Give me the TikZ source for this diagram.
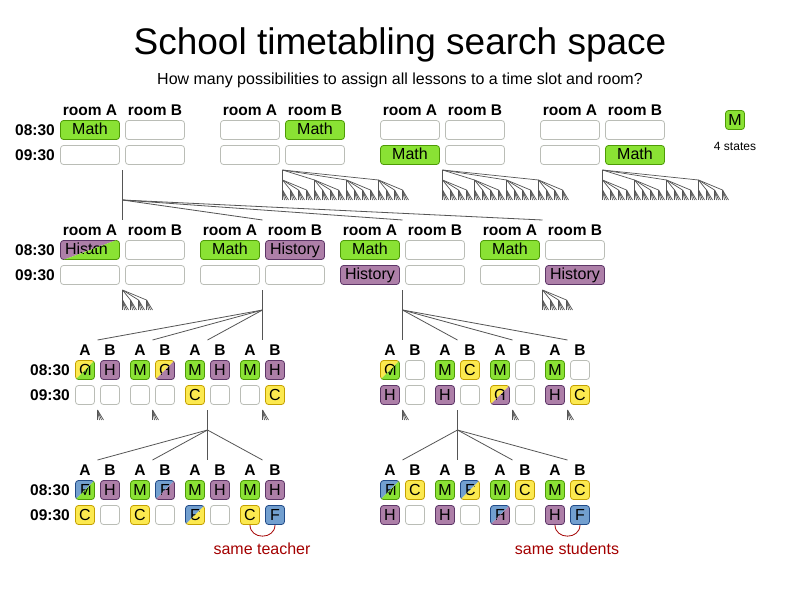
\documentclass[tikz,border=0pt]{standalone}
\usepackage{fontspec}
\setmainfont{Liberation Sans}
\usepackage{tikz}

% Cores
\definecolor{verde}{HTML}{8AE234}
\definecolor{verdeborda}{HTML}{4E9A06}
\definecolor{roxo}{HTML}{AD7FA8}
\definecolor{roxoborda}{HTML}{5C3566}
\definecolor{amarelo}{HTML}{FCE94F}
\definecolor{amareloborda}{HTML}{C4A000}
\definecolor{azul}{HTML}{729FCF}
\definecolor{azulborda}{HTML}{204A87}
\definecolor{cinza}{HTML}{BABDB6}
\definecolor{linhacor}{HTML}{555555}
\definecolor{vermelho}{HTML}{A40000}

\tikzset{
  texto/.style={inner sep=0pt, font=\fontsize{15.5}{18}\selectfont\bfseries},
  sala/.style={draw, rounded corners=3pt, line width=0.8pt, inner sep=0pt,
    minimum width=59pt, minimum height=19pt, text height=12pt, text depth=3pt,
    font=\fontsize{16}{19}\selectfont},
  quad/.style={sala, minimum width=19pt, text height=11.5pt, text depth=0pt},
  vazio/.style={fill=white, draw=cinza},
  mat/.style={fill=verde, draw=verdeborda},
  hist/.style={fill=roxo, draw=roxoborda},
  quim/.style={fill=amarelo, draw=amareloborda},
  fis/.style={fill=azul, draw=azulborda},
  linha/.style={draw=linhacor, line width=0.8pt},
  galho/.style={draw=linhacor, line width=0.7pt},
  aviso/.style={inner sep=0pt, text=vermelho, font=\fontsize{16}{19}\selectfont},
}

% Duas aulas no mesmo lugar
\newcommand{\caixadupla}[7]{%
  \node[#2, draw=none, fill=none] (#1) at (#3) {};
  \begin{scope}
    \clip ([shift={(-2pt,2pt)}]#1.north west) -- ([shift={(2pt,2pt)}]#1.north east)
      -- ([shift={(-2pt,-2pt)}]#1.south west) -- cycle;
    \node[#2, #4] at (#3) {#5};
  \end{scope}
  \begin{scope}
    \clip ([shift={(2pt,2pt)}]#1.north east) -- ([shift={(2pt,-2pt)}]#1.south east)
      -- ([shift={(-2pt,-2pt)}]#1.south west) -- cycle;
    \node[#2, #6] at (#3) {#7};
  \end{scope}
}

% Árvores pequenas
\newcommand{\galhoA}[2]{%
  \foreach \k in {0,...,3} {\draw[galho] (#1,#2) -- (#1+2*\k,#2+10);}}
\newcommand{\galhoB}[2]{%
  \foreach \j in {0,...,3} {\draw[galho] (#1,#2) -- (#1+8*\j,#2+10); \galhoA{#1+8*\j}{#2+10}}}
\newcommand{\galhoC}[2]{%
  \foreach \i in {0,...,3} {\draw[galho] (#1,#2) -- (#1+32*\i,#2+10); \galhoB{#1+32*\i}{#2+10}}}

\begin{document}
\begin{tikzpicture}[x=1pt, y=-1pt]
  \useasboundingbox[fill=white] (0,0) rectangle (800,600);

  % Título
  \node[anchor=base, inner sep=0pt, font=\fontsize{37}{44}\selectfont] (titulo) at (400,54) {School timetabling search space};
  \node[anchor=base, inner sep=0pt, font=\fontsize{16}{19}\selectfont] (subtitulo) at (400,84) {How many possibilities to assign all lessons to a time slot and room?};

  % Nível 1
  \foreach \c/\n in {90/1, 250/2, 410/3, 570/4} {
    \node[texto] (n1sa\n) at (\c,110) {room A};
    \node[texto] (n1sb\n) at (\c+65,110) {room B};
  }
  \node[texto, anchor=east] (n1h1) at (55,130) {08:30};
  \node[texto, anchor=east] (n1h2) at (55,155) {09:30};

  \node[sala, mat] (n1e1a1) at (90,130) {Math};
  \node[sala, vazio] (n1e1b1) at (155,130) {};
  \node[sala, vazio] (n1e1a2) at (90,155) {};
  \node[sala, vazio] (n1e1b2) at (155,155) {};

  \node[sala, vazio] (n1e2a1) at (250,130) {};
  \node[sala, mat] (n1e2b1) at (315,130) {Math};
  \node[sala, vazio] (n1e2a2) at (250,155) {};
  \node[sala, vazio] (n1e2b2) at (315,155) {};

  \node[sala, vazio] (n1e3a1) at (410,130) {};
  \node[sala, vazio] (n1e3b1) at (475,130) {};
  \node[sala, mat] (n1e3a2) at (410,155) {Math};
  \node[sala, vazio] (n1e3b2) at (475,155) {};

  \node[sala, vazio] (n1e4a1) at (570,130) {};
  \node[sala, vazio] (n1e4b1) at (635,130) {};
  \node[sala, vazio] (n1e4a2) at (570,155) {};
  \node[sala, mat] (n1e4b2) at (635,155) {Math};

  % Legenda
  \node[quad, mat] (legenda) at (735,120) {M};
  \node[inner sep=0pt, font=\fontsize{12}{14}\selectfont] (estados) at (735,146) {4 states};

  % Nível 2
  \foreach \c/\n in {90/1, 230/2, 370/3, 510/4} {
    \node[texto] (n2sa\n) at (\c,230) {room A};
    \node[texto] (n2sb\n) at (\c+65,230) {room B};
  }
  \node[texto, anchor=east] (n2h1) at (55,250) {08:30};
  \node[texto, anchor=east] (n2h2) at (55,275) {09:30};

  \caixadupla{n2e1a1}{sala}{90,250}{hist}{History}{mat}{Math}
  \node[sala, vazio] (n2e1b1) at (155,250) {};
  \node[sala, vazio] (n2e1a2) at (90,275) {};
  \node[sala, vazio] (n2e1b2) at (155,275) {};

  \node[sala, mat] (n2e2a1) at (230,250) {Math};
  \node[sala, hist] (n2e2b1) at (295,250) {History};
  \node[sala, vazio] (n2e2a2) at (230,275) {};
  \node[sala, vazio] (n2e2b2) at (295,275) {};

  \node[sala, mat] (n2e3a1) at (370,250) {Math};
  \node[sala, vazio] (n2e3b1) at (435,250) {};
  \node[sala, hist] (n2e3a2) at (370,275) {History};
  \node[sala, vazio] (n2e3b2) at (435,275) {};

  \node[sala, mat] (n2e4a1) at (510,250) {Math};
  \node[sala, vazio] (n2e4b1) at (575,250) {};
  \node[sala, vazio] (n2e4a2) at (510,275) {};
  \node[sala, hist] (n2e4b2) at (575,275) {History};

  % Nível 3
  \foreach \c/\n in {85/1, 140/2, 195/3, 250/4, 390/5, 445/6, 500/7, 555/8} {
    \node[texto] (n3sa\n) at (\c,350) {A};
    \node[texto] (n3sb\n) at (\c+25,350) {B};
    \node[texto] (n4sa\n) at (\c,470) {A};
    \node[texto] (n4sb\n) at (\c+25,470) {B};
  }
  \node[texto, anchor=east] (n3h1) at (70,370) {08:30};
  \node[texto, anchor=east] (n3h2) at (70,395) {09:30};

  \caixadupla{n3e1a1}{quad}{85,370}{quim}{C}{mat}{M}
  \node[quad, hist] (n3e1b1) at (110,370) {H};
  \node[quad, vazio] (n3e1a2) at (85,395) {};
  \node[quad, vazio] (n3e1b2) at (110,395) {};

  \node[quad, mat] (n3e2a1) at (140,370) {M};
  \caixadupla{n3e2b1}{quad}{165,370}{quim}{C}{hist}{H}
  \node[quad, vazio] (n3e2a2) at (140,395) {};
  \node[quad, vazio] (n3e2b2) at (165,395) {};

  \node[quad, mat] (n3e3a1) at (195,370) {M};
  \node[quad, hist] (n3e3b1) at (220,370) {H};
  \node[quad, quim] (n3e3a2) at (195,395) {C};
  \node[quad, vazio] (n3e3b2) at (220,395) {};

  \node[quad, mat] (n3e4a1) at (250,370) {M};
  \node[quad, hist] (n3e4b1) at (275,370) {H};
  \node[quad, vazio] (n3e4a2) at (250,395) {};
  \node[quad, quim] (n3e4b2) at (275,395) {C};

  \caixadupla{n3e5a1}{quad}{390,370}{quim}{C}{mat}{M}
  \node[quad, vazio] (n3e5b1) at (415,370) {};
  \node[quad, hist] (n3e5a2) at (390,395) {H};
  \node[quad, vazio] (n3e5b2) at (415,395) {};

  \node[quad, mat] (n3e6a1) at (445,370) {M};
  \node[quad, quim] (n3e6b1) at (470,370) {C};
  \node[quad, hist] (n3e6a2) at (445,395) {H};
  \node[quad, vazio] (n3e6b2) at (470,395) {};

  \node[quad, mat] (n3e7a1) at (500,370) {M};
  \node[quad, vazio] (n3e7b1) at (525,370) {};
  \caixadupla{n3e7a2}{quad}{500,395}{quim}{C}{hist}{H}
  \node[quad, vazio] (n3e7b2) at (525,395) {};

  \node[quad, mat] (n3e8a1) at (555,370) {M};
  \node[quad, vazio] (n3e8b1) at (580,370) {};
  \node[quad, hist] (n3e8a2) at (555,395) {H};
  \node[quad, quim] (n3e8b2) at (580,395) {C};

  % Nível 4
  \node[texto, anchor=east] (n4h1) at (70,490) {08:30};
  \node[texto, anchor=east] (n4h2) at (70,515) {09:30};

  \caixadupla{n4e1a1}{quad}{85,490}{fis}{F}{mat}{M}
  \node[quad, hist] (n4e1b1) at (110,490) {H};
  \node[quad, quim] (n4e1a2) at (85,515) {C};
  \node[quad, vazio] (n4e1b2) at (110,515) {};

  \node[quad, mat] (n4e2a1) at (140,490) {M};
  \caixadupla{n4e2b1}{quad}{165,490}{fis}{F}{hist}{H}
  \node[quad, quim] (n4e2a2) at (140,515) {C};
  \node[quad, vazio] (n4e2b2) at (165,515) {};

  \node[quad, mat] (n4e3a1) at (195,490) {M};
  \node[quad, hist] (n4e3b1) at (220,490) {H};
  \caixadupla{n4e3a2}{quad}{195,515}{fis}{F}{quim}{C}
  \node[quad, vazio] (n4e3b2) at (220,515) {};

  \node[quad, mat] (n4e4a1) at (250,490) {M};
  \node[quad, hist] (n4e4b1) at (275,490) {H};
  \node[quad, quim] (n4e4a2) at (250,515) {C};
  \node[quad, fis] (n4e4b2) at (275,515) {F};

  \caixadupla{n4e5a1}{quad}{390,490}{fis}{F}{mat}{M}
  \node[quad, quim] (n4e5b1) at (415,490) {C};
  \node[quad, hist] (n4e5a2) at (390,515) {H};
  \node[quad, vazio] (n4e5b2) at (415,515) {};

  \node[quad, mat] (n4e6a1) at (445,490) {M};
  \caixadupla{n4e6b1}{quad}{470,490}{fis}{F}{quim}{C}
  \node[quad, hist] (n4e6a2) at (445,515) {H};
  \node[quad, vazio] (n4e6b2) at (470,515) {};

  \node[quad, mat] (n4e7a1) at (500,490) {M};
  \node[quad, quim] (n4e7b1) at (525,490) {C};
  \caixadupla{n4e7a2}{quad}{500,515}{fis}{F}{hist}{H}
  \node[quad, vazio] (n4e7b2) at (525,515) {};

  \node[quad, mat] (n4e8a1) at (555,490) {M};
  \node[quad, quim] (n4e8b1) at (580,490) {C};
  \node[quad, hist] (n4e8a2) at (555,515) {H};
  \node[quad, fis] (n4e8b2) at (580,515) {F};

  % Conflitos
  \draw[vermelho, line width=0.8pt] (n4e4a2.south) .. controls +(0,15) and +(0,15) .. (n4e4b2.south);
  \draw[vermelho, line width=0.8pt] (n4e8a2.south) .. controls +(0,15) and +(0,15) .. (n4e8b2.south);
  \node[aviso] (professor) at (262,549) {same teacher};
  \node[aviso] (alunos) at (567,549) {same students};

  % Árvore
  \coordinate (r1) at (122.5,170);
  \coordinate (r1m) at (122.5,200);
  \foreach \n/\c in {1/122.5, 2/262.5, 3/402.5, 4/542.5}
    \coordinate (f1\n) at (\c,220);
  \draw[linha] (r1) -- (f11);
  \foreach \n in {2,3,4} \draw[linha] (r1m) -- (f1\n);

  \coordinate (r2) at (262.5,290);
  \coordinate (r2m) at (262.5,310);
  \coordinate (r3) at (402.5,290);
  \coordinate (r3m) at (402.5,310);
  \foreach \n/\c in {1/97.5, 2/152.5, 3/207.5, 4/262.5, 5/402.5, 6/457.5, 7/512.5, 8/567.5} {
    \coordinate (f2\n) at (\c,340);
    \coordinate (f3\n) at (\c,460);
  }
  \draw[linha] (r2) -- (f24);
  \foreach \n in {1,2,3} \draw[linha] (r2m) -- (f2\n);
  \draw[linha] (r3) -- (f25);
  \foreach \n in {6,7,8} \draw[linha] (r3m) -- (f2\n);

  \coordinate (r4) at (207.5,410);
  \coordinate (r4m) at (207.5,430);
  \coordinate (r5) at (457.5,410);
  \coordinate (r5m) at (457.5,430);
  \draw[linha] (r4) -- (f33);
  \foreach \n in {1,2,4} \draw[linha] (r4m) -- (f3\n);
  \draw[linha] (r5) -- (f36);
  \foreach \n in {5,7,8} \draw[linha] (r5m) -- (f3\n);

  % Resto da busca
  \foreach \x in {282.5, 442.5, 602.5} {\galhoC{\x}{170}}
  \foreach \x in {122.5, 542.5} {\galhoB{\x}{290}}
  \foreach \x in {97.5, 152.5, 262.5, 402.5, 512.5, 567.5} {\galhoA{\x}{410}}
\end{tikzpicture}
\end{document}
